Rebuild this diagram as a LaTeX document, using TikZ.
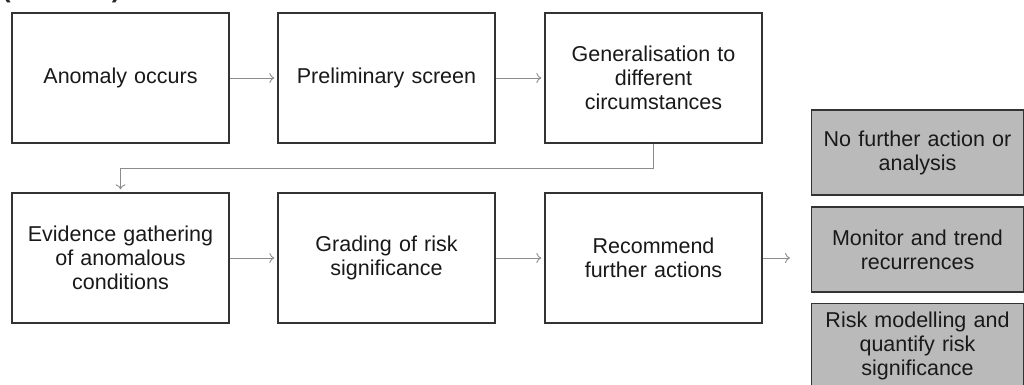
\documentclass[tikz,border=0pt]{standalone}
\usepackage{fontspec}
\setmainfont{Liberation Sans}
\usetikzlibrary{arrows.meta}
\begin{document}
\begin{tikzpicture}[x=1pt,y=-1pt,
  stepbox/.style={draw=black!80, line width=1.3pt, fill=white,
    minimum width=217pt, minimum height=130pt, align=center,
    text width=205pt, inner sep=2pt, text=black!90,
    font=\fontsize{21.5}{24}\selectfont},
  outbox/.style={stepbox, fill=black!27, minimum width=212pt, minimum height=85pt},
  link/.style={draw=black!45, line width=0.9pt, shorten >=3pt,
    -{To[length=5pt,width=10pt]}}]
\useasboundingbox (0,0) rectangle (1024,385);

% heading, mostly above the page edge
\node[anchor=base west, inner sep=0pt, font=\fontsize{26}{28}\bfseries\selectfont, text=black!85]
  (head) at (2,-2.5) {(\hspace{101pt})};

% first row
\node[stepbox] (anom)  at (120.5,78) {Anomaly occurs};
\node[stepbox] (prel)  at (386.5,78) {Preliminary screen};
\node[stepbox] (gen)   at (653.5,78) {Generalisation to\\different\\circumstances};

% second row
\node[stepbox] (evid)  at (120.5,258) {Evidence gathering\\of anomalous\\conditions};
\node[stepbox] (grade) at (386.5,258) {Grading of risk\\significance};
\node[stepbox] (rec)   at (653.5,258) {Recommend\\further actions};

% possible outcomes
\node[outbox] (noact) at (917.5,152.5) {No further action or\\analysis};
\node[outbox] (mon)   at (917.5,249.5) {Monitor and trend\\recurrences};
\node[outbox] (risk)  at (917.5,346)   {Risk modelling and\\quantify risk\\significance};

\coordinate (out) at (793,258);

% connectors
\draw[link] (anom.east) -- (prel.west);
\draw[link] (prel.east) -- (gen.west);
\draw[link] (gen.south) -- ++(0,25) -| (evid.north);
\draw[link] (evid.east) -- (grade.west);
\draw[link] (grade.east) -- (rec.west);
\draw[link] (rec.east) -- (out);
\end{tikzpicture}
\end{document}
